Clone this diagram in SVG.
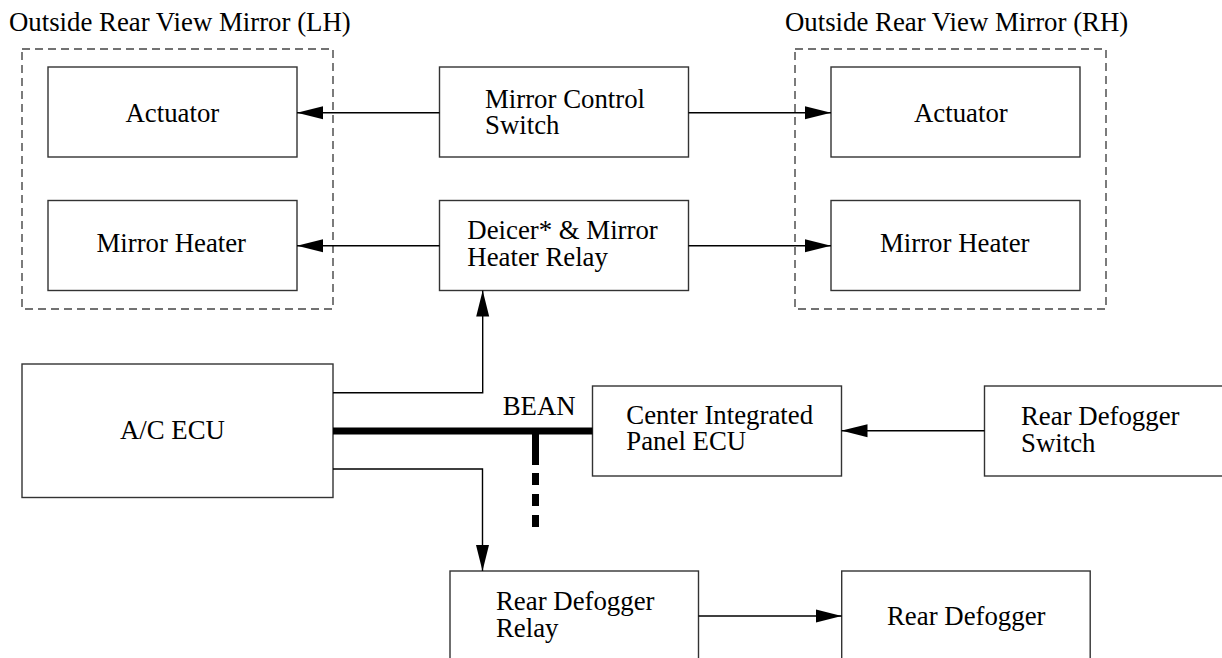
<svg xmlns="http://www.w3.org/2000/svg" width="1222" height="658" viewBox="0 0 1222 658">
<style>
  text { font-size: 26.8px; fill: #000; }
  .box { fill: #fff; stroke: #333; stroke-width: 1.4; }
  .grp { fill: none; stroke: #444; stroke-width: 1.4; stroke-dasharray: 8 5; }
  .wire { fill: none; stroke: #000; stroke-width: 1.4; marker-end: url(#arr); }
  .bus { fill: none; stroke: #000; stroke-width: 7; }
</style>
<defs>
  <marker id="arr" markerUnits="userSpaceOnUse" markerWidth="26" markerHeight="14" refX="26" refY="7" orient="auto">
    <path d="M0,0.5 L26,7 L0,13.5 z" fill="#000"/>
  </marker>
</defs>
<rect width="1222" height="658" fill="#fff"/>

<g id="mirror-lh">
  <text x="9" y="31" font-family="Liberation Serif">Outside Rear View Mirror (LH)</text>
  <rect class="grp" x="22" y="49" width="311" height="260"/>
</g>
<g id="mirror-rh">
  <text x="785" y="31" font-family="Liberation Serif">Outside Rear View Mirror (RH)</text>
  <rect class="grp" x="795" y="49" width="311" height="260"/>
</g>

<g id="actuator-lh">
  <rect class="box" x="48" y="67" width="249" height="90"/>
  <text x="125.5" y="121.7" font-family="Liberation Serif">Actuator</text>
</g>
<g id="heater-lh">
  <rect class="box" x="48" y="200.5" width="249" height="90"/>
  <text x="96.5" y="252.3" font-family="Liberation Serif">Mirror Heater</text>
</g>
<g id="actuator-rh">
  <rect class="box" x="831" y="67" width="249" height="90"/>
  <text x="914" y="121.7" font-family="Liberation Serif">Actuator</text>
</g>
<g id="heater-rh">
  <rect class="box" x="831" y="200.5" width="249" height="90"/>
  <text x="880" y="252.3" font-family="Liberation Serif">Mirror Heater</text>
</g>
<g id="mirror-control-switch">
  <rect class="box" x="439.5" y="67" width="249" height="90"/>
  <text x="485" y="108.3" font-family="Liberation Serif">Mirror Control</text>
  <text x="485" y="134" font-family="Liberation Serif">Switch</text>
</g>
<g id="deicer-relay">
  <rect class="box" x="439.5" y="200.5" width="249" height="90"/>
  <text x="467.3" y="239.3" font-family="Liberation Serif">Deicer* &amp; Mirror</text>
  <text x="467.3" y="265.7" font-family="Liberation Serif">Heater Relay</text>
</g>
<g id="ac-ecu">
  <rect class="box" x="22" y="364" width="311" height="133.5"/>
  <text x="120" y="439" font-family="Liberation Serif">A/C ECU</text>
</g>
<g id="center-panel-ecu">
  <rect class="box" x="592.5" y="386" width="249" height="90"/>
  <text x="626.3" y="424" font-family="Liberation Serif">Center Integrated</text>
  <text x="626.3" y="450" font-family="Liberation Serif">Panel ECU</text>
</g>
<g id="rear-defogger-switch">
  <rect class="box" x="984.5" y="386" width="260" height="90"/>
  <text x="1021" y="425" font-family="Liberation Serif">Rear Defogger</text>
  <text x="1021" y="451.5" font-family="Liberation Serif">Switch</text>
</g>
<g id="rear-defogger-relay">
  <rect class="box" x="450" y="571" width="248.5" height="100"/>
  <text x="496" y="610" font-family="Liberation Serif">Rear Defogger</text>
  <text x="496" y="637" font-family="Liberation Serif">Relay</text>
</g>
<g id="rear-defogger">
  <rect class="box" x="841.7" y="571" width="248.5" height="100"/>
  <text x="887" y="625" font-family="Liberation Serif">Rear Defogger</text>
</g>

<g id="connectors">
  <line class="wire" x1="439.5" y1="112.7" x2="297" y2="112.7"/>
  <line class="wire" x1="688.5" y1="112.7" x2="831" y2="112.7"/>
  <line class="wire" x1="439.5" y1="245.7" x2="297" y2="245.7"/>
  <line class="wire" x1="688.5" y1="245.7" x2="831" y2="245.7"/>
  <polyline class="wire" points="333,392.7 482.7,392.7 482.7,290.5"/>
  <polyline class="wire" points="333,469 482.5,469 482.5,571"/>
  <line class="wire" x1="984.5" y1="430.7" x2="841.5" y2="430.7"/>
  <line class="wire" x1="698.5" y1="616" x2="841.7" y2="616"/>
  <line class="bus" x1="333" y1="431" x2="592.5" y2="431"/>
  <line class="bus" x1="535.5" y1="431" x2="535.5" y2="465" stroke-width="8"/>
  <line class="bus" x1="535.5" y1="473" x2="535.5" y2="528" stroke-width="8" stroke-dasharray="12 9"/>
  <text x="502.7" y="415" font-family="Liberation Serif">BEAN</text>
</g>
</svg>
